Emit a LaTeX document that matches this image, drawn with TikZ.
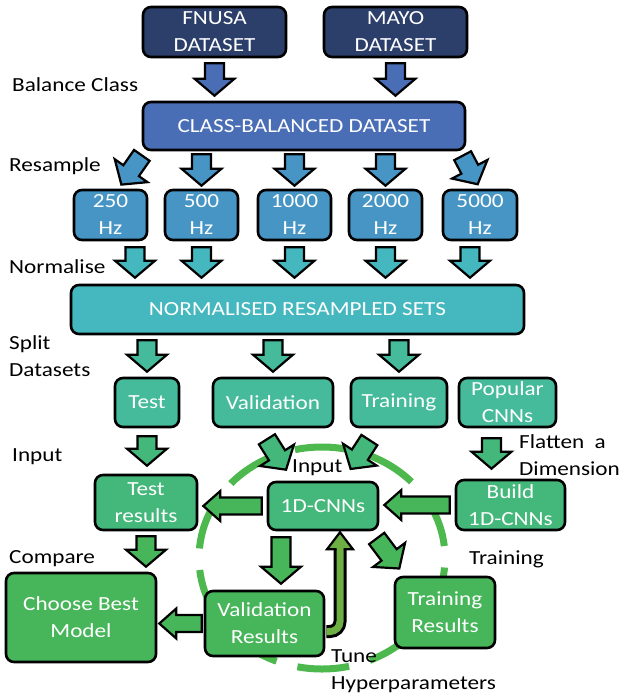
\documentclass[tikz,border=0pt]{standalone}
\usepackage{fontspec}
\setmainfont[FakeStretch=1.16]{Carlito}
\usetikzlibrary{calc,positioning}

\definecolor{navy}{HTML}{2C3F6B}
\definecolor{balblue}{HTML}{4A6EB6}
\definecolor{hzblue}{HTML}{4695C4}
\definecolor{normteal}{HTML}{45B7BE}
\definecolor{splitgreen}{HTML}{45BB9C}
\definecolor{inpgreen}{HTML}{44B77B}
\definecolor{grn}{HTML}{47B55A}
\definecolor{tunegreen}{HTML}{6DAF42}
\definecolor{ringgreen}{HTML}{4CB84D}

\tikzset{
  box/.style={draw=black, line width=2.6pt, rounded corners=8pt, text=white,
    inner sep=0pt, align=center, font=\fontsize{20}{27}\selectfont},
  lbl/.style={inner sep=0pt, align=left, font=\fontsize{20}{27}\selectfont},
  fat/.style={draw=black, line width=2.2pt, line join=miter},
  ring/.style={draw=ringgreen, line width=7pt, dash pattern=on 52pt off 21.57pt, dash phase=61.57pt},
}

% block arrow between two points: [gap]{fill}{from}{to}
\newcommand{\fatshaft}{9.5pt}
\newcommand{\fathead}{20pt}
\newcommand{\fattip}{17pt}
\newcommand{\fatarrow}[4][5pt]{%
  \path (#3) coordinate (fa-a) (#4) coordinate (fa-b);
  \path ($(fa-a)!#1!(fa-b)$) coordinate (fa-s) ($(fa-b)!#1!(fa-a)$) coordinate (fa-t);
  \path ($(fa-t)!\fattip!(fa-s)$) coordinate (fa-h);
  \draw[fat, fill=#2] ($(fa-s)!\fatshaft!90:(fa-t)$) -- ($(fa-h)!\fatshaft!-90:(fa-s)$)
    -- ($(fa-h)!\fathead!-90:(fa-s)$) -- (fa-t) -- ($(fa-h)!\fathead!90:(fa-s)$)
    -- ($(fa-h)!\fatshaft!90:(fa-s)$) -- ($(fa-s)!\fatshaft!-90:(fa-t)$) -- cycle;
}

\begin{document}
\begin{tikzpicture}[x=1pt,y=-1pt]
\useasboundingbox (0,0) rectangle (620,698);

% training loop ring, behind everything
\draw[ring] (322,558) ellipse[x radius=123pt, y radius=111pt];

% data preparation
\node[box, fill=navy, minimum width=143pt, minimum height=50pt] (fnusa) at (214.5,32) {FNUSA\\DATASET};
\node[box, fill=navy, minimum width=143pt, minimum height=50pt] (mayo) at (395.5,32) {MAYO\\DATASET};
\node[box, fill=balblue, minimum width=322pt, minimum height=48pt] (cb) at (304,126) {CLASS-BALANCED DATASET};
\node[box, fill=hzblue, minimum width=73pt, minimum height=50pt] (hz250) at (110.5,215) {250\\Hz};
\node[box, fill=hzblue, minimum width=73pt, minimum height=50pt] (hz500) at (201.5,215) {500\\Hz};
\node[box, fill=hzblue, minimum width=73pt, minimum height=50pt] (hz1000) at (294.5,215) {1000\\Hz};
\node[box, fill=hzblue, minimum width=73pt, minimum height=50pt] (hz2000) at (385.5,215) {2000\\Hz};
\node[box, fill=hzblue, minimum width=74pt, minimum height=50pt] (hz5000) at (480,215) {5000\\Hz};
\node[box, fill=normteal, minimum width=453pt, minimum height=49pt] (norm) at (297.5,309.5) {NORMALISED RESAMPLED SETS};
\node[box, fill=splitgreen, minimum width=64pt, minimum height=49pt] (test) at (147,402.5) {Test};
\node[box, fill=splitgreen, minimum width=120pt, minimum height=49pt] (val) at (273,402.5) {Validation};
\node[box, fill=splitgreen, minimum width=96pt, minimum height=49pt] (train) at (399,402.5) {Training};
\node[box, fill=splitgreen, minimum width=97pt, minimum height=49pt] (popular) at (507.5,402.5) {Popular\\CNNs};

% models and results
\node[box, fill=inpgreen, minimum width=102pt, minimum height=55pt] (testres) at (146,502.5) {Test\\results};
\node[box, fill=inpgreen, minimum width=110pt, minimum height=48pt] (cnn) at (323,506) {1D-CNNs};
\node[box, fill=inpgreen, minimum width=109pt, minimum height=50pt] (build) at (510.5,505) {Build\\1D-CNNs};
\node[box, fill=grn, minimum width=150pt, minimum height=89pt] (best) at (81,617.5) {Choose Best\\Model};
\node[box, fill=grn, minimum width=119pt, minimum height=65pt] (valres) at (264.5,623.5) {Validation\\Results};
\node[box, fill=grn, minimum width=100pt, minimum height=71pt] (trainres) at (445,612.5) {Training\\Results};

% step labels
\node[lbl, anchor=base west] (lbal) at (12,92) {Balance Class};
\node[lbl, anchor=base west] (lres) at (9,171) {Resample};
\node[lbl, anchor=base west] (lnorm) at (9,273) {Normalise};
\node[lbl, anchor=west] (lsplit) at (9,356) {Split\\Datasets};
\node[lbl, anchor=base west] (linput) at (12,461) {Input};
\node[lbl, anchor=base west] (lcnnin) at (292,472) {Input};
\node[lbl, anchor=west] (lflat) at (519,455) {Flatten~~a\\Dimension};
\node[lbl, anchor=base west] (lcomp) at (9,563) {Compare};
\node[lbl, anchor=base west] (ltrain) at (469,564) {Training};
\node[lbl, anchor=west] (ltune) at (331,671) {Tune\\Hyperparameters};

% balance and resample
\fatarrow{balblue}{fnusa.south}{fnusa.south |- cb.north}
\fatarrow{balblue}{mayo.south}{mayo.south |- cb.north}
\fatarrow{hzblue}{$(cb.south west)+(3,0)$}{$(hz250.north)+(8,0)$}
\fatarrow[3pt]{hzblue}{hz500.north |- cb.south}{hz500.north}
\fatarrow[3pt]{hzblue}{hz1000.north |- cb.south}{hz1000.north}
\fatarrow[3pt]{hzblue}{hz2000.north |- cb.south}{hz2000.north}
\fatarrow{hzblue}{$(cb.south east)+(-6,0)$}{hz5000.north}

% normalise
\coordinate (n250) at ($(hz250.south)+(24.5,0)$);
\coordinate (n5000) at ($(hz5000.south)+(-10,0)$);
\fatarrow[6pt]{normteal}{n250}{n250 |- norm.north}
\fatarrow[6pt]{normteal}{hz500.south}{hz500.south |- norm.north}
\fatarrow[6pt]{normteal}{hz1000.south}{hz1000.south |- norm.north}
\fatarrow[6pt]{normteal}{hz2000.south}{hz2000.south |- norm.north}
\fatarrow[6pt]{normteal}{n5000}{n5000 |- norm.north}

% split
\fatarrow{splitgreen}{test.north |- norm.south}{test.north}
\fatarrow{splitgreen}{val.north |- norm.south}{val.north}
\fatarrow{splitgreen}{train.north |- norm.south}{train.north}

% inputs
\fatarrow[8pt]{inpgreen}{test.south}{test.south |- testres.north}
\fatarrow[13pt]{inpgreen}{$(val.south)+(-13,0)$}{$(cnn.north)+(-30,0)$}
\fatarrow[14pt]{inpgreen}{$(train.south)+(-22,0)$}{$(cnn.north)+(20,0)$}
\coordinate (flat) at ($(popular.south)+(-16,0)$);
\fatarrow[10pt]{inpgreen}{flat}{flat |- build.north}

% sideways arrows
{\def\fathead{15pt}\def\fatshaft{8.5pt}
\fatarrow{grn}{cnn.west}{cnn.west -| testres.east}
\fatarrow{grn}{build.west}{build.west -| cnn.east}
\fatarrow[2pt]{grn}{valres.west}{valres.west -| best.east}
}

% results
\fatarrow{grn}{testres.south}{testres.south |- best.north}
\coordinate (down) at ($(cnn.south)+(-42,0)$);
\fatarrow[6pt]{grn}{down}{down |- valres.north}
\fatarrow[9pt]{grn}{$(cnn.south east)+(-8,0)$}{$(trainres.north west)+(11,0)$}

% tuning feedback
\coordinate (tunetip) at ($(cnn.south)+(17,1)$);
\draw[line width=13pt, black, rounded corners=10pt] ($(valres.east)+(1,8)$) -| ($(tunetip)+(0,15)$);
\draw[line width=7pt, tunegreen, rounded corners=10pt] ($(valres.east)+(1,8)$) -| ($(tunetip)+(0,15)$);
\draw[fat, fill=tunegreen] ($(tunetip)+(-3.5,17)$) -- ($(tunetip)+(-13,17)$) -- (tunetip)
  -- ($(tunetip)+(13,17)$) -- ($(tunetip)+(3.5,17)$);
\end{tikzpicture}
\end{document}
